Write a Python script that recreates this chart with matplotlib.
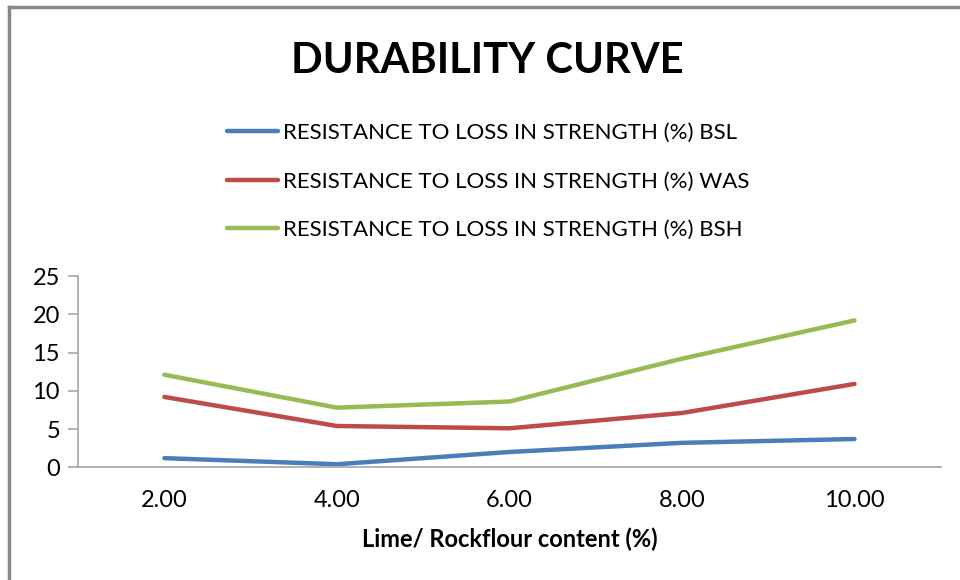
import matplotlib
matplotlib.use('Agg')
import matplotlib.pyplot as plt
from matplotlib.lines import Line2D

plt.rcParams['font.family'] = ['Lato', 'DejaVu Sans']

# dados
categorias = ['2.00', '4.00', '6.00', '8.00', '10.00']
bsl = [1.2, 0.4, 2.0, 3.2, 3.7]
was = [9.2, 5.4, 5.1, 7.1, 10.9]
bsh = [12.1, 7.8, 8.6, 14.2, 19.2]
rotulos = ['RESISTANCE TO LOSS IN STRENGTH (%) BSL',
           'RESISTANCE TO LOSS IN STRENGTH (%) WAS',
           'RESISTANCE TO LOSS IN STRENGTH (%) BSH']
cores = ['#4a7ebb', '#be4b48', '#98b954']

fig = plt.figure(figsize=(9.6, 5.8), dpi=100)
ax = fig.add_axes([0.0813, 0.1943, 0.8987, 0.3297])

x = range(len(categorias))
for serie, cor, rot in zip([bsl, was, bsh], cores, rotulos):
  ax.plot(x, serie, color=cor, lw=3.2, solid_capstyle='round', label=rot)

ax.set_xlim(-0.5, 4.5)
ax.set_ylim(0, 25)
ax.set_yticks([0, 5, 10, 15, 20, 25])
ax.set_xticks(list(x))
ax.set_xticklabels(categorias)
for lado in ['top', 'right']:
  ax.spines[lado].set_visible(False)
for lado in ['left', 'bottom']:
  ax.spines[lado].set_color('#a6a6a6')
  ax.spines[lado].set_linewidth(1.2)
ax.tick_params(axis='y', length=7, width=1.2, color='#a6a6a6', labelsize=17, pad=6)
ax.tick_params(axis='x', length=0, labelsize=17, pad=16)
ax.set_xlabel('Lime/ Rockflour content (%)', fontsize=17, fontweight='bold', labelpad=12)

fig.text(0.508, 0.895, 'DURABILITY CURVE', fontsize=30, fontweight='bold',
         ha='center', va='center')

fig.legend(loc='upper left', bbox_to_anchor=(0.216, 0.822), frameon=False,
           fontsize=16, handlelength=2.3, handletextpad=0.2, labelspacing=1.27)

# moldura
fig.add_artist(Line2D([0.009, 0.009], [0, 0.988], color='#888888', lw=2.5))
fig.add_artist(Line2D([0.009, 1.0], [0.988, 0.988], color='#888888', lw=2.5))

fig.savefig('out.png', dpi=100)
